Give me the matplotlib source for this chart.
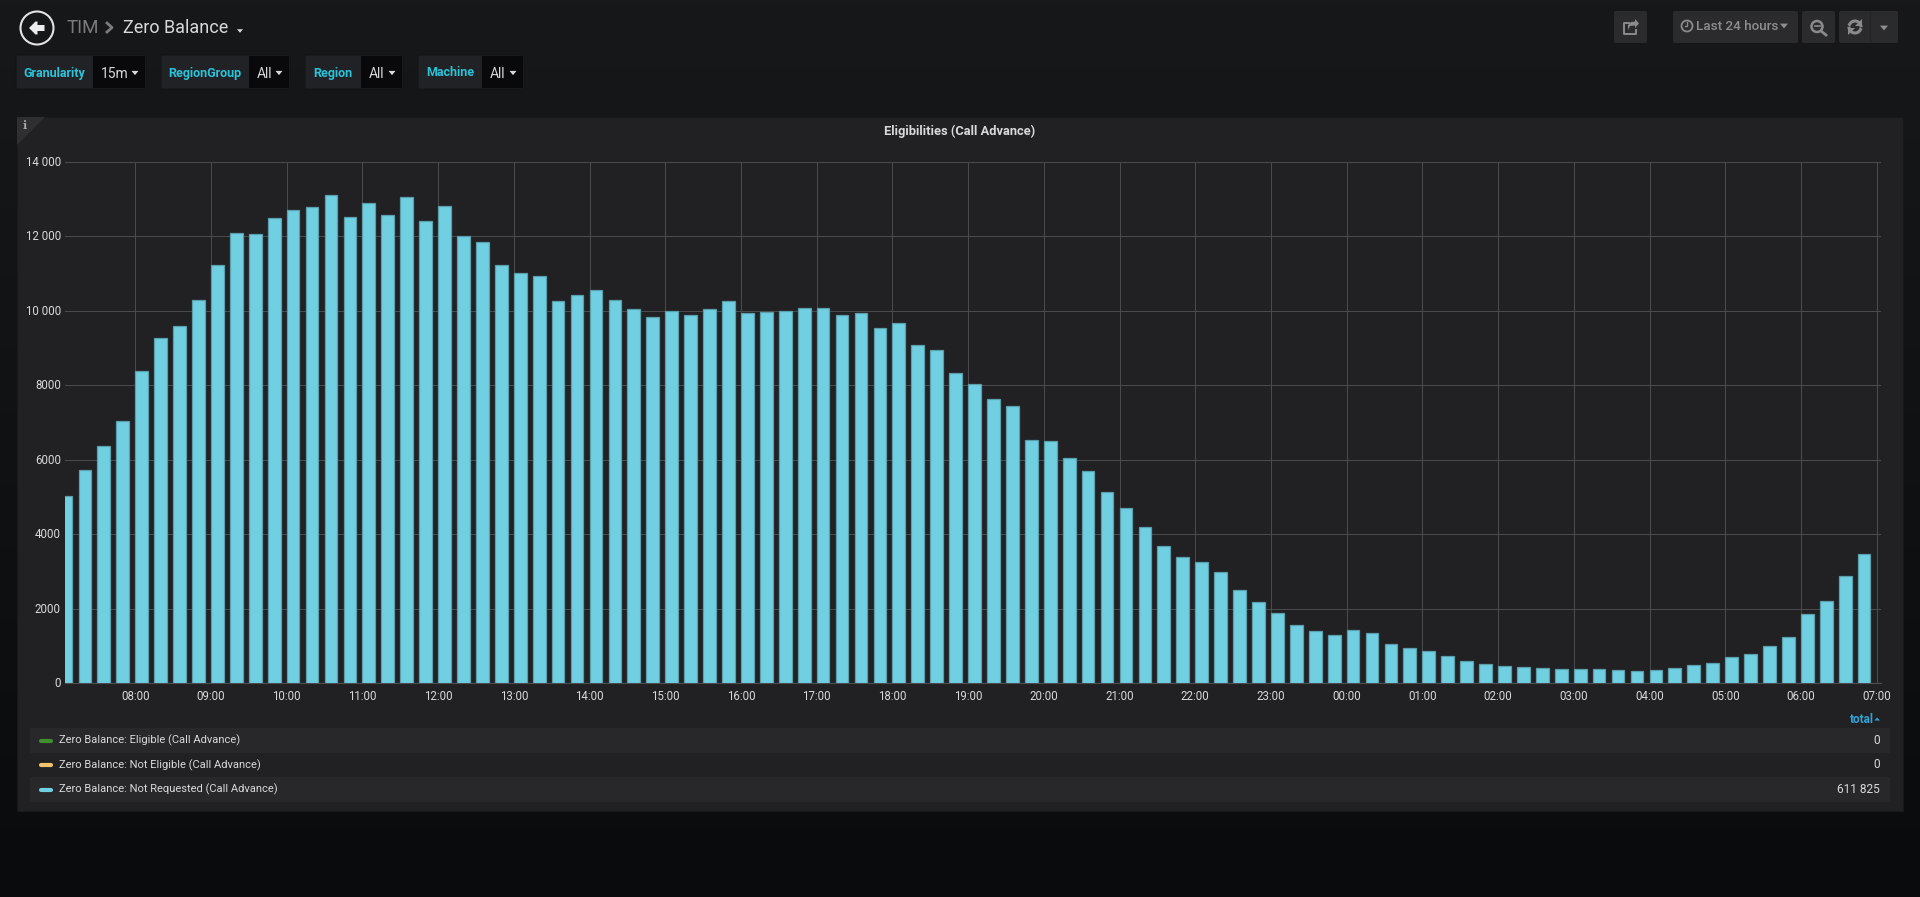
import matplotlib
matplotlib.use('Agg')
import matplotlib.pyplot as plt
import numpy as np
from matplotlib.patches import Circle, FancyBboxPatch, Polygon, Rectangle
from matplotlib.transforms import ScaledTranslation

plt.rcParams['font.family'] = ['Roboto', 'DejaVu Sans']

# one value per 15 minutes, starting at 07:00
not_requested = [
    5030, 5720, 6370, 7030, 8380, 9270, 9600, 10290,
    11220, 12100, 12060, 12500, 12700, 12800, 13100, 12530,
    12890, 12570, 13070, 12420, 12820, 12010, 11850, 11220,
    11020, 10930, 10270, 10420, 10560, 10290, 10060, 9830,
    9990, 9880, 10060, 10270, 9930, 9980, 10000, 10090,
    10070, 9890, 9930, 9540, 9670, 9080, 8940, 8320,
    8030, 7630, 7430, 6540, 6500, 6050, 5690, 5130,
    4690, 4180, 3680, 3390, 3250, 2970, 2500, 2170,
    1870, 1550, 1410, 1280, 1420, 1350, 1050, 930,
    870, 720, 580, 520, 460, 440, 400, 370,
    365, 365, 340, 320, 340, 390, 490, 540,
    700, 780, 995, 1235, 1865, 2210, 2865, 3475,
]
hour_ticks = list(range(8, 32))
y_ticks = [0, 2000, 4000, 6000, 8000, 10000, 12000, 14000]
y_labels = ['0', '2000', '4000', '6000', '8000', '10 000', '12 000', '14 000']
legend_names = [
    'Zero Balance: Eligible (Call Advance)',
    'Zero Balance: Not Eligible (Call Advance)',
    'Zero Balance: Not Requested (Call Advance)',
]
legend_colors = ['#3f8f2f', '#f4c26b', '#6ed0e0']
legend_totals = ['0', '0', '611 825']
filters = [
    ('Granularity', '15m', 16, 93, 146),
    ('RegionGroup', 'All', 161, 249, 290),
    ('Region', 'All', 305, 361, 403),
    ('Machine', 'All', 418, 482, 524),
]

fig = plt.figure(figsize=(19.2, 8.97), dpi=100)

# page layer, works in screen pixels
page = fig.add_axes([0, 0, 1, 1])
page.axis('off')
gradient = np.linspace(0, 1, 256).reshape(-1, 1)
top = np.array([0x17, 0x18, 0x1a]) / 255
bottom = np.array([0x0a, 0x0b, 0x0d]) / 255
page.imshow(top + (bottom - top) * gradient[..., None], extent=(0, 1920, 897, 0), aspect='auto')
page.set_xlim(0, 1920)
page.set_ylim(897, 0)


def box(x0, y0, x1, y1, color, edge='none', r=2):
    page.add_patch(FancyBboxPatch((x0 + r, y0 + r), x1 - x0 - 2 * r, y1 - y0 - 2 * r,
                                  boxstyle=f'round,pad={r},rounding_size={r}',
                                  fc=color, ec=edge, lw=0.8))


def caret(x, y, size=3.5, color='#d8d9da'):
    page.add_patch(Polygon([(x - size, y - size * 0.6), (x + size, y - size * 0.6), (x, y + size * 0.6)],
                           fc=color, ec='none'))


# header
page.add_patch(Circle((37, 28), 16.5, fc='none', ec='#e3e3e3', lw=1.5))
page.add_patch(Polygon([(29, 28), (35.5, 21.5), (37.5, 21.5), (37.5, 25), (44.5, 25), (44.5, 31),
                        (37.5, 31), (37.5, 34.5), (35.5, 34.5)], fc='#ececec', ec='none'))
page.text(67, 28, 'TIM', color='#7b7b7b', fontsize=13.5, va='center')
page.plot([107, 112, 107], [23, 27.5, 32], color='#7b7b7b', lw=2)
page.text(123, 28, 'Zero Balance', color='#d8d9da', fontsize=13, va='center')
caret(240, 31, 3)

# filter row
for name, value, x0, x1, x2 in filters:
    box(x0, 55, x2, 89, '#212226', edge='#141517')
    page.add_patch(Rectangle((x1, 56), x2 - x1 - 1, 32, fc='#09090b', ec='none'))
    page.text((x0 + x1) / 2, 73, name, color='#2bc3d8', fontsize=9, va='center', ha='center', fontweight='bold')
    page.text(x1 + 8, 74, value, color='#d8d9da', fontsize=10, va='center')
    caret(x2 - 11, 73, 3.5)

# top right buttons
for x0, x1 in [(1614, 1647), (1673, 1798), (1802, 1835), (1839, 1898)]:
    box(x0, 11, x1, 43, '#2b2b2e')
page.plot([1870, 1870], [12, 42], color='#242427', lw=1)
# share
page.plot([1629, 1624, 1624, 1636, 1636], [23, 23, 34, 34, 30], color='#8a8a8a', lw=1.4)
page.add_patch(Polygon([(1635, 19), (1639, 23.5), (1635, 28), (1635, 25.5), (1630, 26), (1628, 30),
                        (1628, 25), (1631, 22), (1635, 21.5)], fc='#8a8a8a', ec='none'))
# clock
page.add_patch(Circle((1687, 26), 5.5, fc='none', ec='#8a8a8a', lw=1.3))
page.plot([1687, 1687, 1684.5], [22.5, 26.5, 26.5], color='#8a8a8a', lw=1)
page.text(1696, 27, 'Last 24 hours', color='#8e8e8e', fontsize=9.7, va='center', fontweight='medium')
caret(1784, 26, 4, '#8e8e8e')
# zoom out
page.add_patch(Circle((1817, 26.5), 5.5, fc='none', ec='#8a8a8a', lw=1.8))
page.plot([1814.5, 1819.5], [26.5, 26.5], color='#8a8a8a', lw=1.2)
page.plot([1821, 1826], [31, 35], color='#8a8a8a', lw=2)
# refresh
theta = np.linspace(0.2, 2.7, 20)
page.plot(1855 + 6 * np.cos(theta), 27 - 6 * np.sin(theta), color='#8a8a8a', lw=2.2)
page.plot(1855 - 6 * np.cos(theta), 27 + 6 * np.sin(theta), color='#8a8a8a', lw=2.2)
page.add_patch(Polygon([(1862, 19), (1862, 26), (1855, 26)], fc='#8a8a8a', ec='none'))
page.add_patch(Polygon([(1848, 35), (1848, 28), (1855, 28)], fc='#8a8a8a', ec='none'))
caret(1884, 28, 4, '#8e8e8e')

# panel
page.add_patch(Rectangle((17, 117), 1886, 694, fc='#212124', ec='#19191b', lw=0.8))
page.add_patch(Polygon([(17, 117), (45, 117), (17, 145)], fc='#2f2f32', ec='none'))
page.text(24.5, 125.5, 'i', color='#a8a8a8', fontsize=8, va='center', ha='center', fontweight='bold', family='DejaVu Serif')
page.text(959.5, 131, 'Eligibilities (Call Advance)', color='#d8d9da', fontsize=9.3,
          va='center', ha='center', fontweight='bold')

# legend table
page.text(1874, 719.5, 'total', color='#33a2d5', fontsize=8.5, va='center', ha='right', fontweight='bold')
page.add_patch(Polygon([(1874.5, 720.5), (1880, 720.5), (1877, 717.5)], fc='#33a2d5', ec='none'))
for i, (name, color, total) in enumerate(zip(legend_names, legend_colors, legend_totals)):
    y0 = 728 + i * 24.5
    if i != 1:
        page.add_patch(Rectangle((30, y0), 1860, 25, fc='#28282a', ec='none'))
    page.plot([41, 51], [y0 + 13, y0 + 13], color=color, lw=3, solid_capstyle='round')
    page.text(59, y0 + 12.5, name, color='#d8d9da', fontsize=8, va='center')
    page.text(1880, y0 + 12.5, total, color='#d8d9da', fontsize=8.6, va='center', ha='right')

# chart: x is hours since midnight of the first day
ax = fig.add_axes([65 / 1920, 1 - 683 / 897, (1881 - 65) / 1920, (683 - 162) / 897])
ax.patch.set_alpha(0)
hours = 7 + np.arange(len(not_requested)) * 0.25
ax.bar(hours, not_requested, width=0.168, align='edge', color='#70d0e2', edgecolor='#5a9fac', linewidth=0.9, zorder=3)
ax.set_xlim(7.071, 31.057)
ax.set_ylim(0, 14000)
ax.set_xticks(hour_ticks)
ax.set_xticklabels([f'{h % 24:02d}:00' for h in hour_ticks])
ax.set_yticks(y_ticks)
ax.set_yticklabels(y_labels)
ax.tick_params(length=0, colors='#d8d9da', labelsize=8.3)
ax.tick_params(axis='x', pad=5)
ax.tick_params(axis='y', pad=3)
ax.grid(True, color='#4d4d4f', linewidth=0.7, zorder=1)
ax.set_axisbelow(True)
for side in ['top', 'right', 'left']:
    ax.spines[side].set_visible(False)
ax.spines['bottom'].set_color('#4d4d4f')
nudge = ScaledTranslation(0, 1 / 100, fig.dpi_scale_trans)
for label in ax.get_yticklabels():
    label.set_transform(label.get_transform() + nudge)

fig.savefig('out.png', dpi=100)
